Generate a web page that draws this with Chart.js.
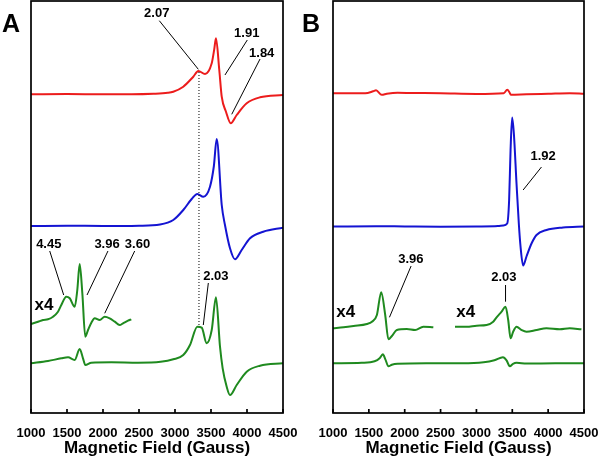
<!DOCTYPE html>
<html lang="en">
<head>
<meta charset="UTF-8" />
<title>EPR spectra A / B</title>
<script src="https://cdn.jsdelivr.net/npm/chart.js"></script>
<style>
  body { margin: 0; background: #fff; }
  .panel { position: absolute; top: 0; width: 300px; height: 459px; }
</style>
</head>
<body>
<div class="panel" style="left:0"><canvas id="chartA" width="300" height="459"></canvas></div>
<div class="panel" style="left:300px"><canvas id="chartB" width="300" height="459"></canvas></div>
<script>
// x axis ticks (Gauss)
const xTicks = [1000, 1500, 2000, 2500, 3000, 3500, 4000, 4500];

// ---- Panel A ----
const fieldRedA = [1000, 1500, 2000, 2400, 2700, 2900, 2976, 3115, 3254, 3324, 3417, 3510, 3545, 3569, 3615, 3649, 3708, 3774, 3857, 3996, 4181, 4500];
const redA      = [0, 0.3, 0, 0, 0.5, 1.5, 2.6, 7.6, 17.6, 23.3, 20.3, 31, 45, 56, 24.3, -2.4, -17.4, -29, -20.7, -9, -3, -0.7];

const fieldBlueA = [1000, 1500, 2000, 2500, 2792, 2976, 3115, 3232, 3310, 3393, 3486, 3540, 3579, 3649, 3694, 3764, 3833, 3926, 4042, 4226, 4500];
const blueA      = [0, 0.3, 0, 0.3, 1.5, 6, 16, 27, 32, 29.3, 39.3, 60, 87, 21, 1, -22.3, -33.3, -24, -12.3, -5.7, -1.7];

const fieldGreenA4 = [1000, 1097, 1167, 1236, 1306, 1375, 1421, 1490, 1538, 1607, 1643, 1676, 1713, 1754, 1792, 1838, 1885, 1954, 2024, 2093, 2163, 2232, 2278, 2347, 2393];
const greenA4      = [-4, -1.7, 0, 0.7, 3.3, 8.3, 15, 23.3, 21.7, 13.3, 30, 56, 26.7, -16.7, -10, -2.7, 1.7, 0, 3.3, 1.7, -1.7, -5, -3.3, -0.7, 0.7];

const fieldGreenA = [1000, 1236, 1421, 1514, 1607, 1676, 1722, 1754, 1838, 2115, 2486, 2800, 2976, 3115, 3208, 3310, 3371, 3440, 3510, 3569, 3625, 3662, 3718, 3764, 3857, 3996, 4181, 4500];
const greenA      = [0, 2.3, 5, 6, 3.3, 14.3, 5, -1.7, 0.6, 1, 0.6, 1.5, 4, 8.3, 18.3, 36.6, 35.6, 20, 33.3, 66, 16.6, -5, -23.4, -31.7, -21.7, -8.4, -2.4, 0];

// ---- Panel B ----
const fieldRedB = [1000, 1450, 1560, 1600, 1680, 1750, 1900, 2100, 2500, 3000, 3380, 3430, 3460, 3480, 3700, 4000, 4300, 4500];
const redB      = [0, 0, 2, 3, -1.5, -0.5, 0.5, 0.3, 0, -0.7, 0, 3.5, 1, -1.5, -1, -0.5, 0, -0.5];

const fieldBlueB = [1000, 1600, 2000, 2500, 3000, 3300, 3373, 3429, 3456, 3476, 3498, 3522, 3559, 3591, 3615, 3651, 3698, 3768, 3838, 3977, 4208, 4500];
const blueB      = [0, 0.3, 0, -0.3, 0, 0.5, 1, 3, 26.5, 76.5, 109, 93, 43, 3, -20, -39, -30, -17, -8.5, -3.5, -1, 0];

const fieldGreenB4L = [1000, 1147, 1287, 1473, 1543, 1612, 1672, 1728, 1773, 1821, 1890, 2029, 2145, 2260, 2399];
const greenB4L      = [-1.3, -0.3, 1, 3, 5.3, 12, 34.7, 12, -12.3, -9, -3, -2, -3, 0.3, -0.3];

const fieldGreenB4R = [2701, 2864, 3003, 3142, 3234, 3281, 3351, 3406, 3443, 3476, 3512, 3559, 3629, 3698, 3838, 3977, 4162, 4301, 4464];
const greenB4R      = [0.3, 0.3, 1.3, 2, 5.3, 9.7, 15.3, 20.3, 7, -11.3, -4.7, 0.3, -3, -4.7, -3, -1.3, -2.3, -1.3, -2.3];

const fieldGreenB = [1000, 1400, 1580, 1650, 1695, 1730, 1773, 1820, 1900, 2300, 2800, 3100, 3250, 3370, 3420, 3466, 3510, 3560, 3700, 4100, 4500];
const greenB      = [0, 0.5, 2, 5, 9, 4, -3, -1.5, -0.5, 0, 0, 1, 3, 6, 3, -3, -0.5, 0.5, -0.3, 0, 0];

const RED = "#ec1c1c", BLUE = "#1414d2", GREEN = "#1f8a1f";
const FONT = "'Liberation Sans', Arial, Helvetica, sans-serif";

function toPoints(fields, vals, offset) {
  return fields.map((f, i) => ({ x: f, y: vals[i] + offset }));
}

function trace(fields, vals, offset, color) {
  return {
    data: toPoints(fields, vals, offset),
    borderColor: color,
    borderWidth: 2,
    pointRadius: 0,
    cubicInterpolationMode: "monotone",
    fill: false,
  };
}

// annotation plugin: frame, inward ticks, g-value labels and leader lines
function decor(letter, notes, tags, dotted) {
  return {
    id: "decor" + letter,
    afterDraw(chart) {
      const { ctx, chartArea: a, scales: { x, y } } = chart;
      ctx.save();
      ctx.strokeStyle = "#000";
      ctx.lineWidth = 1.7;
      ctx.strokeRect(a.left, a.top, a.right - a.left, a.bottom - a.top);
      ctx.beginPath();
      xTicks.forEach((v) => {
        const px = x.getPixelForValue(v);
        ctx.moveTo(px, a.bottom);
        ctx.lineTo(px, a.bottom - 4);
      });
      ctx.stroke();

      if (dotted) {
        ctx.lineWidth = 1;
        ctx.setLineDash([1, 2]);
        ctx.beginPath();
        ctx.moveTo(x.getPixelForValue(dotted.x), y.getPixelForValue(dotted.y1));
        ctx.lineTo(x.getPixelForValue(dotted.x), y.getPixelForValue(dotted.y2));
        ctx.stroke();
        ctx.setLineDash([]);
      }

      ctx.fillStyle = "#000";
      ctx.textAlign = "center";
      ctx.textBaseline = "alphabetic";
      ctx.font = "bold 13px " + FONT;
      ctx.lineWidth = 1;
      notes.forEach((n) => {
        ctx.fillText(n.text, x.getPixelForValue(n.x), y.getPixelForValue(n.y));
        ctx.beginPath();
        ctx.moveTo(x.getPixelForValue(n.from[0]), y.getPixelForValue(n.from[1]));
        ctx.lineTo(x.getPixelForValue(n.to[0]), y.getPixelForValue(n.to[1]));
        ctx.stroke();
      });

      ctx.font = "bold 17px " + FONT;
      tags.forEach((t) => {
        ctx.fillText(t.text, x.getPixelForValue(t.x), y.getPixelForValue(t.y));
      });

      ctx.textAlign = "left";
      ctx.font = "bold 25px " + FONT;
      ctx.fillText(letter, 2, 32);
      ctx.restore();
    },
  };
}

function makeChart(id, datasets, padLeft, padRight, plugin) {
  return new Chart(document.getElementById(id), {
    type: "line",
    data: { datasets },
    options: {
      responsive: false,
      animation: false,
      layout: { padding: { left: padLeft, right: padRight, top: 1, bottom: 0 } },
      plugins: { legend: { display: false }, tooltip: { enabled: false } },
      scales: {
        x: {
          type: "linear",
          min: 1000,
          max: 4500,
          afterBuildTicks: (s) => { s.ticks = xTicks.map((v) => ({ value: v })); },
          afterFit: (s) => {
            s.height = 46;
            s.paddingLeft = 0;
            s.paddingRight = 0;
          },
          grid: { display: false, drawTicks: false },
          border: { display: false },
          ticks: {
            color: "#000",
            padding: 13,
            maxRotation: 0,
            autoSkip: false,
            font: { family: FONT, size: 13, weight: "bold" },
            callback: (v) => String(v),
          },
          title: {
            display: true,
            text: "Magnetic Field (Gauss)",
            color: "#000",
            padding: 0,
            font: { family: FONT, size: 17, weight: "bold" },
          },
        },
        y: { display: false, min: 0, max: 412 },
      },
    },
    plugins: [plugin],
  });
}

makeChart(
  "chartA",
  [
    trace(fieldRedA, redA, 318.7, RED),
    trace(fieldBlueA, blueA, 187, BLUE),
    trace(fieldGreenA4, greenA4, 93, GREEN),
    trace(fieldGreenA, greenA, 49.7, GREEN),
  ],
  31, 17,
  decor(
    "A",
    [
      { text: "2.07", x: 2746, y: 395.7, from: [2782, 392.3], to: [3324, 343.7] },
      { text: "1.91", x: 3996, y: 376, from: [4004, 373], to: [3694, 338] },
      { text: "1.84", x: 4204, y: 356, from: [4181, 354], to: [3788, 298.7] },
      { text: "4.45", x: 1247, y: 164.7, from: [1260, 162], to: [1454, 118] },
      { text: "3.96", x: 2056, y: 164.7, from: [2069, 162], to: [1778, 118] },
      { text: "3.60", x: 2479, y: 164.7, from: [2440, 162], to: [2024, 99.7] },
      { text: "2.03", x: 3567, y: 133, from: [3463, 130], to: [3393, 88] },
    ],
    [{ text: "x4", x: 1181, y: 103 }],
    { x: 3333, y1: 341, y2: 86 }
  )
);

makeChart(
  "chartB",
  [
    trace(fieldRedB, redB, 319.7, RED),
    trace(fieldBlueB, blueB, 186.5, BLUE),
    trace(fieldGreenB4L, greenB4L, 86, GREEN),
    trace(fieldGreenB4R, greenB4R, 86, GREEN),
    trace(fieldGreenB, greenB, 49.7, GREEN),
  ],
  33, 16,
  decor(
    "B",
    [
      { text: "1.92", x: 3929, y: 253, from: [3907, 246], to: [3651, 223] },
      { text: "3.96", x: 2086, y: 150.3, from: [2089, 147], to: [1787, 95.7] },
      { text: "2.03", x: 3383, y: 132, from: [3406, 128], to: [3406, 111.3] },
    ],
    [
      { text: "x4", x: 1178, y: 95.7 },
      { text: "x4", x: 2851, y: 95.7 },
    ],
    null
  )
);
</script>
</body>
</html>
